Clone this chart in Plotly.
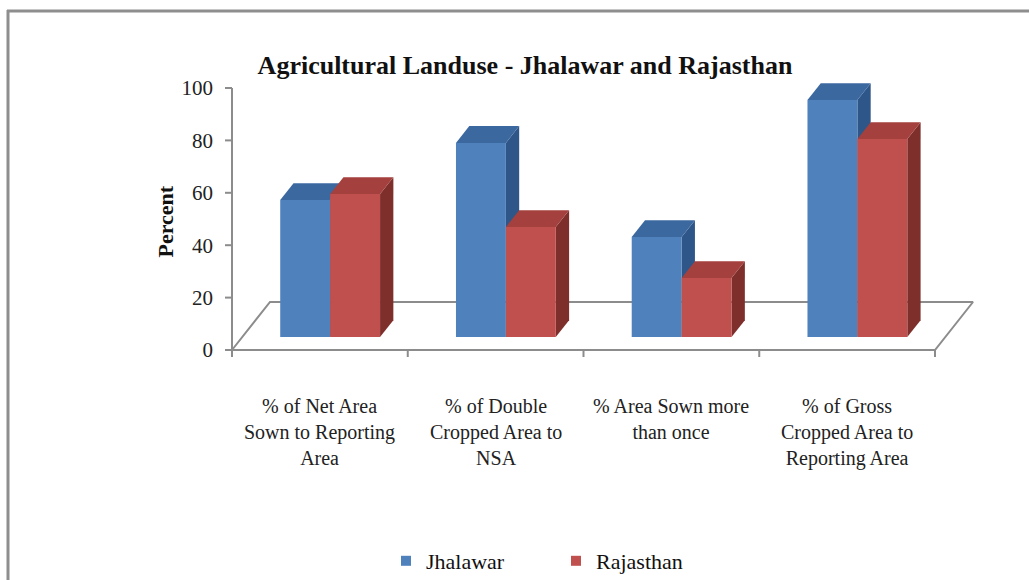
import plotly.graph_objects as go

# ---------------- data ----------------
categories = [
    "% of Net Area<br>Sown to Reporting<br>Area",
    "% of Double<br>Cropped Area to<br>NSA",
    "% Area Sown more<br>than once",
    "% of Gross<br>Cropped Area to<br>Reporting Area",
]
series_names = ["Jhalawar", "Rajasthan"]
jhalawar = [52.3, 74.1, 38.2, 90.5]
rajasthan = [54.6, 42.0, 22.5, 75.6]
y_ticks = [0, 20, 40, 60, 80, 100]

title_text = "Agricultural Landuse - Jhalawar and Rajasthan"
y_title = "Percent"

# ---------------- styling / geometry ----------------
W, H = 1029, 580
L, R, T, B = 220, 40, 72, 214
PW, PH = W - L - R, H - T - B
PX_PER_X = 175.75          # pixels per category unit
PX_PER_Y = 2.62            # pixels per percent
Y0_PX = 350                # pixel row of value 0
AX_X = -0.5                # x position of value axis (front-left floor corner)
x_min = AX_X - (232 - L) / PX_PER_X
x_max = x_min + PW / PX_PER_X
y_min = -((H - B) - Y0_PX) / PX_PER_Y
y_max = y_min + PH / PX_PER_Y

FD_X = 38 / PX_PER_X       # floor depth vector (x)
FD_Y = 48 / PX_PER_Y       # floor depth vector (y)
F_FRONT, F_BACK = 0.27, 0.62
BW = 0.284                 # bar width in category units

colors = {
    "Jhalawar": {"front": "#4F81BD", "top": "#3C68A0", "side": "#2F5689"},
    "Rajasthan": {"front": "#C0504D", "top": "#A4403D", "side": "#7E2F2C"},
}
GRAY = "#8C8C8C"
SERIF = "Liberation Serif, Times New Roman, serif"


def ppx(px):   # figure pixel x -> paper
    return (px - L) / PW


def ppy(py):   # figure pixel y -> paper
    return ((H - B) - py) / PH


fig = go.Figure()

# floor
nc = len(categories)
fx = [AX_X, AX_X + nc, AX_X + nc + FD_X, AX_X + FD_X, AX_X]
fy = [0, 0, FD_Y, FD_Y, 0]
fig.add_trace(go.Scatter(x=fx, y=fy, mode="lines", line=dict(color=GRAY, width=2),
                         hoverinfo="skip", showlegend=False))
# value axis line + ticks
tick_len = 7 / PX_PER_X
ax_x, ax_y = [AX_X, AX_X], [0, y_ticks[-1]]
for t in y_ticks:
    ax_x += [None, AX_X - tick_len, AX_X]
    ax_y += [None, t, t]
# category boundary ticks
ct_len = 7 / PX_PER_Y
for i in range(nc + 1):
    ax_x += [None, AX_X + i, AX_X + i]
    ax_y += [None, 0, -ct_len]
fig.add_trace(go.Scatter(x=ax_x, y=ax_y, mode="lines", line=dict(color=GRAY, width=2),
                         hoverinfo="skip", showlegend=False))


def poly(xs, ys, color):
    fig.add_trace(go.Scatter(x=xs + [xs[0]], y=ys + [ys[0]], mode="lines", fill="toself",
                             fillcolor=color, line=dict(width=0, color=color),
                             hoverinfo="skip", showlegend=False))


fdx, fdy = F_FRONT * FD_X, F_FRONT * FD_Y
ddx, ddy = (F_BACK - F_FRONT) * FD_X, (F_BACK - F_FRONT) * FD_Y
series_vals = {"Jhalawar": jhalawar, "Rajasthan": rajasthan}
for k in range(nc):
    c = k + fdx
    for si, name in enumerate(series_names):
        v = series_vals[name][k]
        a = c - BW if si == 0 else c
        b = a + BW
        y0, y1 = fdy, fdy + v
        col = colors[name]
        poly([b, b + ddx, b + ddx, b], [y0, y0 + ddy, y1 + ddy, y1], col["side"])
        poly([a, b, b + ddx, a + ddx], [y1, y1, y1 + ddy, y1 + ddy], col["top"])
        poly([a, b, b, a], [y0, y0, y1, y1], col["front"])

# legend entries
for name in series_names:
    fig.add_trace(go.Scatter(x=[None], y=[None], mode="markers", name=name,
                             marker=dict(symbol="square", size=10, color=colors[name]["front"])))

# category labels
for k, lab in enumerate(categories):
    fig.add_annotation(x=k + 0.0, y=ppy(393), xref="x", yref="paper", text=lab,
                       showarrow=False, yanchor="top", xanchor="center", align="center",
                       font=dict(family=SERIF, size=20, color="#222222"))

# y-axis title
fig.add_annotation(x=ppx(150), y=ppy(222), xref="paper", yref="paper", text="<b>%s</b>" % y_title,
                   showarrow=False, textangle=-90, font=dict(family=SERIF, size=22, color="#111111"))

# frame
fig.add_shape(type="line", xref="paper", yref="paper", x0=ppx(7), x1=ppx(1030), y0=ppy(11), y1=ppy(11),
              line=dict(color="#8E8E8E", width=3))
fig.add_shape(type="line", xref="paper", yref="paper", x0=ppx(8), x1=ppx(8), y0=ppy(10), y1=ppy(581),
              line=dict(color="#8E8E8E", width=3))

fig.update_layout(
    width=W, height=H,
    margin=dict(l=L, r=R, t=T, b=B, autoexpand=False),
    paper_bgcolor="white", plot_bgcolor="white",
    title=dict(text="<b>%s</b>" % title_text, x=525 / W, xref="container", xanchor="center",
               y=1 - 65 / H, yref="container", yanchor="middle",
               font=dict(family=SERIF, size=26, color="#111111")),
    xaxis=dict(range=[x_min, x_max], visible=False),
    yaxis=dict(range=[y_min, y_max], tickvals=y_ticks, ticks="", showgrid=False, zeroline=False,
               showline=False, ticklabelstandoff=6,
               tickfont=dict(family=SERIF, size=21, color="#222222")),
    showlegend=True,
    legend=dict(orientation="h", x=ppx(386), y=ppy(561), xanchor="left", yanchor="middle",
                entrywidth=125, entrywidthmode="pixels", itemwidth=30,
                font=dict(family=SERIF, size=22, color="#111111"), bgcolor="rgba(0,0,0,0)"),
)

fig.write_html("out.html")
